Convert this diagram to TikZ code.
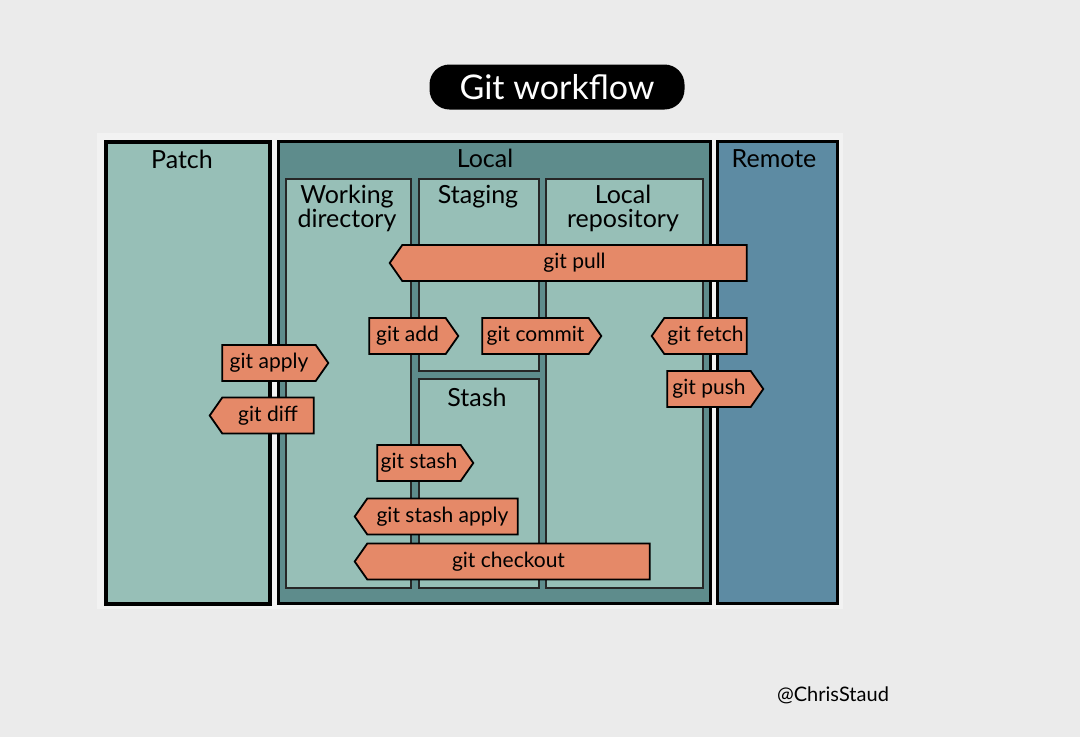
\documentclass[tikz,border=0pt]{standalone}
\usepackage{fontspec}
\setmainfont{Lato}
\usetikzlibrary{shapes.symbols,positioning}
\definecolor{bggray}{HTML}{EBEBEB}
\definecolor{patchfill}{HTML}{97BFB7}
\definecolor{localfill}{HTML}{5E8C8C}
\definecolor{remotefill}{HTML}{5D8BA3}
\definecolor{cmdfill}{HTML}{E58968}
\tikzset{
  column/.style={draw=black, line width=2.5pt, anchor=north west, inner sep=0pt},
  area/.style={draw=black!85, line width=2pt, fill=patchfill, anchor=north west, inner sep=0pt},
  heading/.style={font=\fontsize{25}{24}\selectfont, align=center, inner sep=0pt},
  cmd/.style={signal, draw=black, line width=1.8pt, fill=cmdfill,
    minimum height=36pt, signal pointer angle=110, inner sep=0pt,
    font=\fontsize{21}{21}\selectfont},
  cmdright/.style={cmd, signal to=east},
  cmdleft/.style={cmd, signal to=west}
}
\begin{document}
\begin{tikzpicture}[x=1pt, y=-1pt]
  \fill[bggray] (0,0) rectangle (1080,737);
  \useasboundingbox (0,0) rectangle (1080,737);
  \fill[white!35!bggray] (97,133) rectangle (843,609);

  % title
  \node[fill=black, rounded corners=20pt, minimum width=255pt, minimum height=45pt,
        text=white, font=\fontsize{34}{34}\selectfont] (title) at (557,87) {Git workflow};

  % columns
  \node[column, line width=3.5pt, fill=patchfill, minimum width=164pt, minimum height=462pt] (patch) at (104,140) {};
  \node[column, fill=localfill, minimum width=432pt, minimum height=462pt] (local) at (277,140) {};
  \node[column, fill=remotefill, minimum width=120pt, minimum height=462pt] (remote) at (716,140) {};

  % areas inside local
  \node[area, minimum width=125pt, minimum height=409pt] (workdir) at (285,178) {};
  \node[area, minimum width=120pt, minimum height=192pt] (staging) at (418,178) {};
  \node[area, minimum width=120pt, minimum height=209pt] (stash) at (418,378) {};
  \node[area, minimum width=157pt, minimum height=409pt] (localrepo) at (545,178) {};

  % headings
  \node[heading] at (182,159) {Patch};
  \node[heading] at (485,158) {Local};
  \node[heading] at (774,159) {Remote};
  \node[heading] at (347,208) {Working\\directory};
  \node[heading] at (478,197) {Staging};
  \node[heading] at (623,208) {Local\\repository};
  \node[heading] at (477,397) {Stash};

  % commands
  \node[cmdleft, minimum width=357pt] (pull) at (574.5,263) {git pull};
  \node[cmdright, minimum width=89pt] (add) at (407.5,336) {git add};
  \node[cmdright, minimum width=119pt] (commit) at (535.5,336) {git commit};
  \node[cmdleft, minimum width=95pt] (fetch) at (705.5,336) {git fetch};
  \node[cmdright, minimum width=96pt] (push) at (709,389) {git push};
  \node[cmdright, minimum width=106pt] (apply) at (269,363) {git apply};
  \node[cmdleft, minimum width=104pt] (diff) at (268,415.5) {git diff};
  \node[cmdright, minimum width=96pt] (stashcmd) at (419,463) {git stash};
  \node[cmdleft, minimum width=163pt] (stashapply) at (442.5,516.5) {git stash apply};
  \node[cmdleft, minimum width=295pt] (checkout) at (508.5,561.5) {git checkout};

  \node[font=\fontsize{20}{20}\selectfont] (credit) at (833,695) {@ChrisStaud};
\end{tikzpicture}
\end{document}
